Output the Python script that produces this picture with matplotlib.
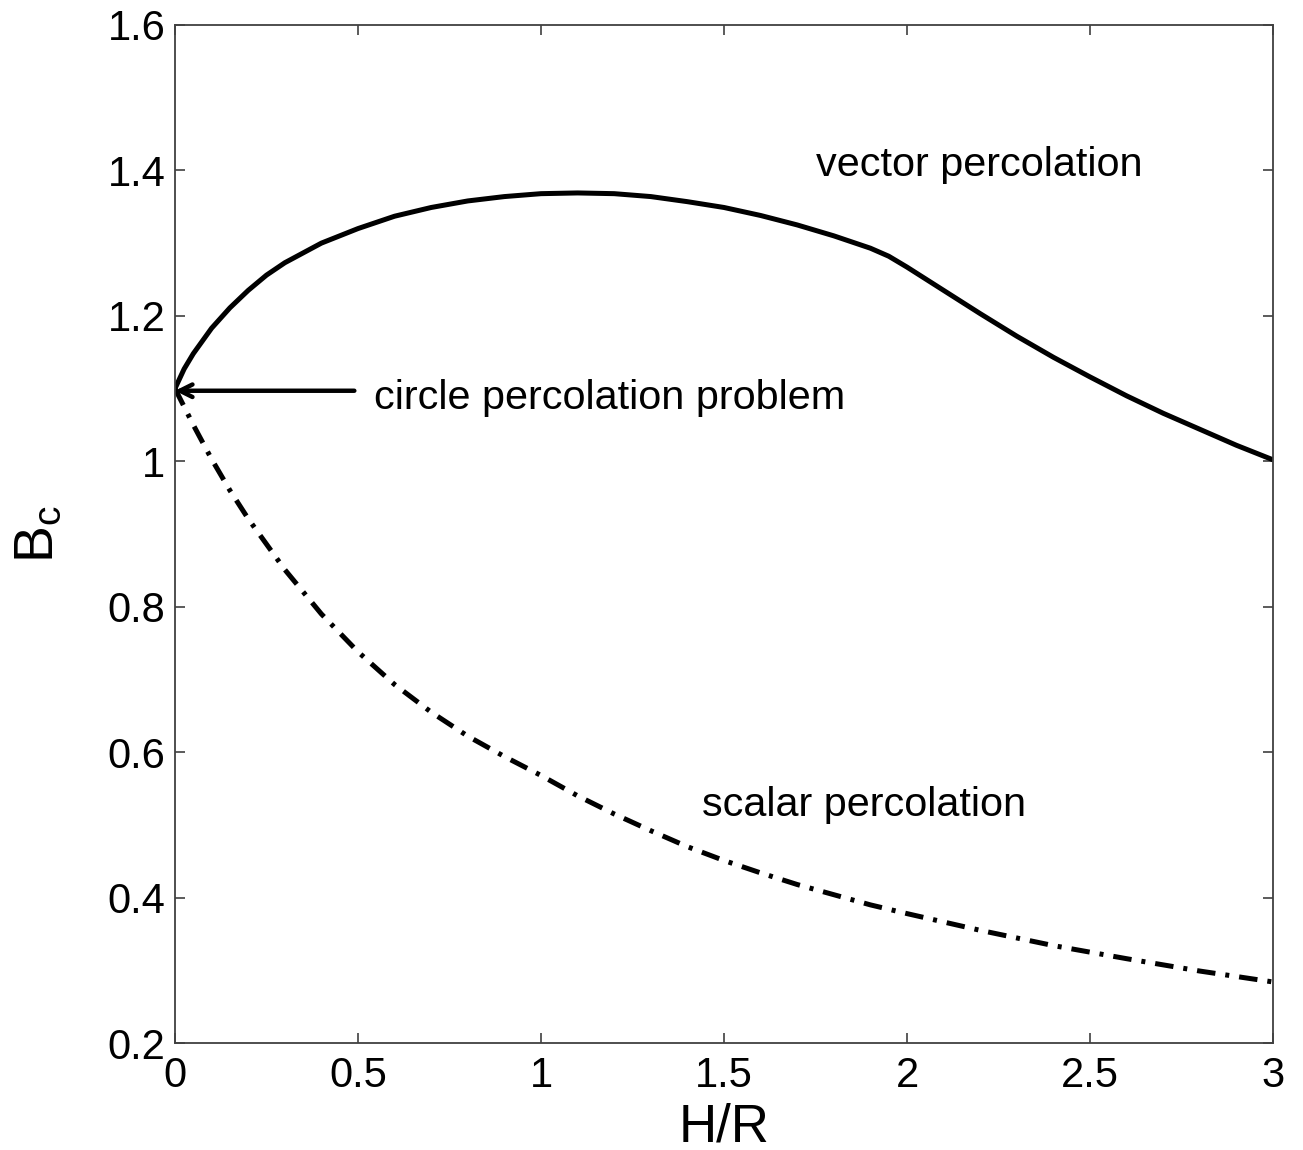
import matplotlib
matplotlib.use("Agg")
import matplotlib.pyplot as plt

plt.rcParams['font.family'] = ['Liberation Sans', 'DejaVu Sans']
plt.rcParams['mathtext.fontset'] = 'custom'
plt.rcParams['mathtext.rm'] = 'Liberation Sans'
plt.rcParams['mathtext.it'] = 'Liberation Sans'

# Data
hr_vector = [0, 0.025, 0.05, 0.1, 0.15, 0.2, 0.25, 0.3, 0.4, 0.5, 0.6, 0.7,
             0.8, 0.9, 1.0, 1.1, 1.2, 1.3, 1.4, 1.5, 1.6, 1.7, 1.8, 1.9,
             1.95, 2.0, 2.05, 2.1, 2.2, 2.3, 2.4, 2.5, 2.6, 2.7, 2.8, 2.9, 3.0]
bc_vector = [1.100, 1.127, 1.148, 1.183, 1.211, 1.235, 1.256, 1.273, 1.300,
             1.320, 1.337, 1.349, 1.358, 1.364, 1.368, 1.369, 1.368, 1.364,
             1.357, 1.349, 1.338, 1.325, 1.310, 1.293, 1.282, 1.267, 1.251,
             1.235, 1.203, 1.172, 1.143, 1.116, 1.090, 1.066, 1.044, 1.022,
             1.002]

hr_scalar = [0, 0.05, 0.1, 0.15, 0.2, 0.3, 0.4, 0.5, 0.6, 0.7, 0.8, 0.9, 1.0,
             1.1, 1.2, 1.3, 1.4, 1.5, 1.6, 1.7, 1.8, 1.9, 2.0, 2.2, 2.4,
             2.6, 2.8, 3.0]
bc_scalar = [1.100, 1.050, 1.003, 0.960, 0.921, 0.851, 0.790, 0.738, 0.693,
             0.655, 0.622, 0.594, 0.568, 0.540, 0.515, 0.492, 0.470, 0.451,
             0.434, 0.418, 0.404, 0.390, 0.378, 0.355, 0.334, 0.316, 0.299,
             0.284]

x_ticks = [0, 0.5, 1, 1.5, 2, 2.5, 3]
x_ticklabels = ['0', '0.5', '1', '1.5', '2', '2.5', '3']
y_ticks = [0.2, 0.4, 0.6, 0.8, 1.0, 1.2, 1.4, 1.6]
y_ticklabels = ['0.2', '0.4', '0.6', '0.8', '1', '1.2', '1.4', '1.6']

circle_point = (0, 1.097)

fig = plt.figure(figsize=(13.03, 11.5), dpi=100)
ax = fig.add_axes([0.1343, 0.0930, 0.8427, 0.8853])

ax.plot(hr_vector, bc_vector, color='black', lw=3.6, solid_capstyle='butt')
ax.plot(hr_scalar, bc_scalar, color='black', lw=3.6,
        dashes=(3.7, 2.0, 0.8, 2.0), dash_capstyle='butt')

ax.annotate('', xy=circle_point, xytext=(0.49, circle_point[1]),
            arrowprops=dict(arrowstyle='->,head_length=0.9,head_width=0.45',
                            color='black', lw=3.2, shrinkA=0, shrinkB=0))
ax.text(0.545, 1.087, 'circle percolation problem', fontsize=29.8,
        va='center', ha='left')
ax.text(1.75, 1.407, 'vector percolation', fontsize=29.8, va='center', ha='left')
ax.text(1.44, 0.527, 'scalar percolation', fontsize=29.8, va='center', ha='left')

ax.set_xlim(0, 3)
ax.set_ylim(0.2, 1.6)
ax.set_xticks(x_ticks)
ax.set_xticklabels(x_ticklabels)
ax.set_yticks(y_ticks)
ax.set_yticklabels(y_ticklabels)
ax.tick_params(direction='in', length=7, width=1.2, color='#404040',
               labelsize=30, top=True, right=True)
ax.tick_params(axis='x', pad=9)
ax.tick_params(axis='y', pad=7)
for s in ax.spines.values():
    s.set_color('#404040')
    s.set_linewidth(1.3)

ax.set_xlabel('H/R', fontsize=38, labelpad=5)
ax.set_ylabel(r'$\mathregular{B_c}$', fontsize=40, labelpad=30)

fig.savefig('out.png', dpi=100, facecolor='white')
